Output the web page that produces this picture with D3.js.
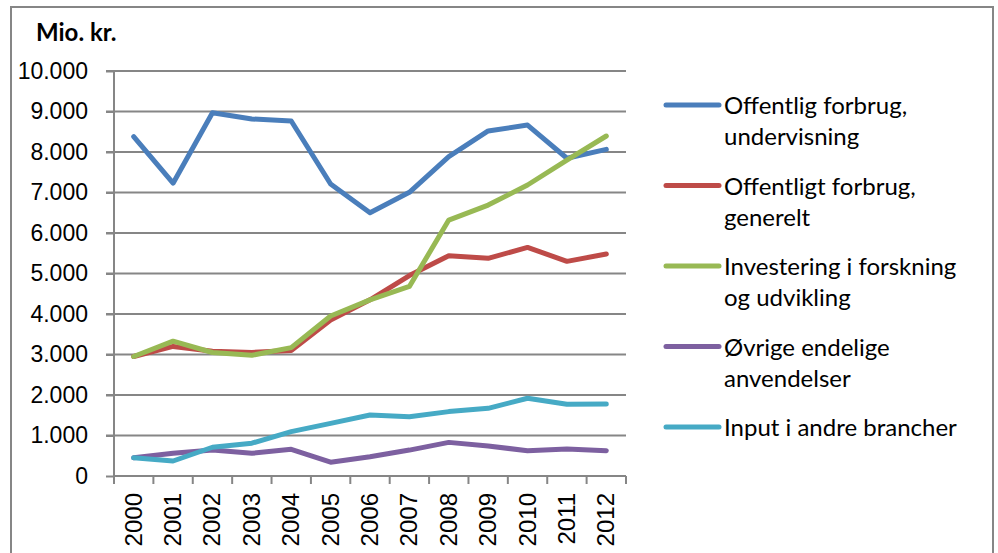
<html>
<head>
<script src="https://d3js.org/d3.v7.min.js"></script>
<style>
  body { margin: 0; background: #fff; }
  text { font-family: "Liberation Sans", Arial, sans-serif; }
  .leg text, .unit { font-family: Lato, "Open Sans", sans-serif; }
</style>
</head>
<body>
<div id="chart"></div>
<script>
// years and series (Mio. kr.)
var years = ["2000","2001","2002","2003","2004","2005","2006","2007","2008","2009","2010","2011","2012"];
var yTicks = [0, 1000, 2000, 3000, 4000, 5000, 6000, 7000, 8000, 9000, 10000];

var undervisning = [8380, 7230, 8970, 8815, 8765, 7210, 6500, 7005, 7885, 8520, 8665, 7845, 8065];
var generelt     = [2950, 3200, 3080, 3050, 3100, 3850, 4350, 4950, 5440, 5375, 5645, 5300, 5480];
var forskning    = [2950, 3330, 3050, 2980, 3170, 3950, 4350, 4680, 6320, 6690, 7185, 7800, 8395];
var ovrige       = [450, 560, 640, 560, 660, 340, 475, 640, 830, 740, 625, 665, 625];
var input        = [450, 370, 710, 810, 1095, 1300, 1505, 1465, 1590, 1670, 1920, 1770, 1775];

var seriesNames = [
  ["Offentlig forbrug,", "undervisning"],
  ["Offentligt forbrug,", "generelt"],
  ["Investering i forskning", "og udvikling"],
  ["Øvrige endelige", "anvendelser"],
  ["Input i andre brancher"]
];
var colors = ["#4a7ebb", "#be4b48", "#98b954", "#7d60a0", "#46aac5"];
var allSeries = [undervisning, generelt, forskning, ovrige, input];

var W = 998, H = 553;
var pLeft = 114, pRight = 626, pTop = 71, pBottom = 476;

var svg = d3.select("#chart").append("svg")
  .attr("width", W).attr("height", H);

// outer frame
svg.append("rect")
  .attr("x", 11).attr("y", 7).attr("width", 982).attr("height", 560)
  .attr("fill", "none").attr("stroke", "#868686").attr("stroke-width", 2);

var x = d3.scaleBand().domain(years).range([pLeft, pRight]);
var y = d3.scaleLinear().domain([0, 10000]).range([pBottom, pTop]);

// gridlines
svg.append("g").selectAll("line")
  .data(yTicks.slice(1)).enter().append("line")
  .attr("x1", pLeft - 8).attr("x2", pRight)
  .attr("y1", function(d) { return y(d); })
  .attr("y2", function(d) { return y(d); })
  .attr("stroke", "#868686").attr("stroke-width", 2);

// y axis
var yAxis = svg.append("g")
  .attr("transform", "translate(" + pLeft + ",0)")
  .call(d3.axisLeft(y).tickValues(yTicks).tickSize(8).tickPadding(18)
    .tickFormat(function(d) { return d3.format(",")(d).replace(/,/g, "."); }));
yAxis.selectAll("line, path").attr("stroke", "#868686").attr("stroke-width", 2);
yAxis.select(".domain").attr("d", "M0," + pBottom + "V" + pTop);
yAxis.selectAll("text").attr("font-size", 23).attr("fill", "#000")
  .attr("font-family", "Liberation Sans, Arial, sans-serif");

// x axis, ticks between categories
var xAxis = svg.append("g")
  .attr("transform", "translate(0," + pBottom + ")");
xAxis.append("line")
  .attr("x1", pLeft).attr("x2", pRight)
  .attr("stroke", "#868686").attr("stroke-width", 2);
xAxis.selectAll(".tk")
  .data(d3.range(years.length + 1)).enter().append("line")
  .attr("class", "tk")
  .attr("x1", function(i) { return pLeft + i * x.bandwidth(); })
  .attr("x2", function(i) { return pLeft + i * x.bandwidth(); })
  .attr("y1", 0).attr("y2", 8)
  .attr("stroke", "#868686").attr("stroke-width", 2);
xAxis.selectAll(".lbl")
  .data(years).enter().append("text")
  .attr("class", "lbl")
  .attr("transform", function(d) {
    return "translate(" + (x(d) + x.bandwidth() / 2 + 8) + ",17) rotate(-90)";
  })
  .attr("text-anchor", "end")
  .attr("font-size", 24)
  .text(function(d) { return d; });

// unit label
svg.append("text").attr("class", "unit")
  .attr("x", 36).attr("y", 41)
  .attr("font-size", 24).attr("font-weight", "bold")
  .text("Mio. kr.");

// lines
var line = d3.line()
  .x(function(d, i) { return x(years[i]) + x.bandwidth() / 2; })
  .y(function(d) { return y(d); });

svg.append("g").selectAll("path")
  .data(allSeries).enter().append("path")
  .attr("d", line)
  .attr("fill", "none")
  .attr("stroke", function(d, i) { return colors[i]; })
  .attr("stroke-width", 5)
  .attr("stroke-linejoin", "round")
  .attr("stroke-linecap", "round");

// legend
var leg = svg.append("g").attr("class", "leg");
var rows = leg.selectAll("g")
  .data(seriesNames).enter().append("g")
  .attr("transform", function(d, i) { return "translate(0," + (105 + i * 80.5) + ")"; });
rows.append("line")
  .attr("x1", 666).attr("x2", 719)
  .attr("stroke", function(d, i) { return colors[i]; })
  .attr("stroke-width", 5).attr("stroke-linecap", "round");
rows.each(function(d) {
  var t = d3.select(this).append("text")
    .attr("x", 724).attr("y", 9)
    .attr("font-size", 24).attr("fill", "#000");
  d.forEach(function(s, j) {
    t.append("tspan").attr("x", 724).attr("dy", j == 0 ? 0 : 31).text(s);
  });
});
</script>
</body>
</html>
